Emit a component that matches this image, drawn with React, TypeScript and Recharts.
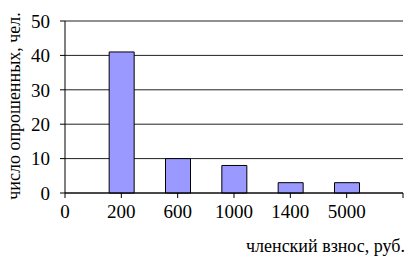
import { Bar, BarChart, CartesianGrid, Label, XAxis, YAxis } from "recharts";

const fees = ["200", "600", "1000", "1400", "5000"];
const respondents = [41, 10, 8, 3, 3];
const xTickLabels = ["0", "200", "600", "1000", "1400", "5000", ""];
const yTicks = [0, 10, 20, 30, 40, 50];

const data = fees.map((fee, i) => ({ fee, pos: i + 1, count: respondents[i] }));

const font = "Liberation Serif, DejaVu Serif, serif";

export default function App() {
  return (
    <div style={{ position: "absolute", left: 0, top: 0, background: "#fff", fontFamily: font }}>
      <BarChart width={408} height={258} data={data} margin={{ top: 21, right: 5, left: 0, bottom: 0 }}>
        <CartesianGrid vertical={false} stroke="#222" strokeWidth={1} />
        <XAxis
          type="number"
          dataKey="pos"
          domain={[0, 6]}
          ticks={[0, 1, 2, 3, 4, 5, 6]}
          tickFormatter={(v: number) => xTickLabels[v]}
          height={65}
          stroke="#000"
          tickSize={5}
          tickMargin={7}
          tick={{ fill: "#000", fontSize: 19, style: { fontFamily: font } }}
        >
          <Label
            content={({ viewBox }: any) => (
              <text
                x={viewBox.x + viewBox.width + 2}
                y={viewBox.y + viewBox.height - 6}
                textAnchor="end"
                fill="#000"
                fontSize={18}
                style={{ fontFamily: font }}
              >
                членский взнос, руб.
              </text>
            )}
          />
        </XAxis>
        <YAxis
          domain={[0, 50]}
          ticks={yTicks}
          width={65}
          stroke="#000"
          tickSize={5}
          tickMargin={10}
          tick={{ fill: "#000", fontSize: 19, style: { fontFamily: font } }}
        >
          <Label
            content={({ viewBox }: any) => {
              const cx = 14;
              const cy = viewBox.y + viewBox.height / 2 - 1;
              return (
                <text
                  x={cx}
                  y={cy}
                  transform={`rotate(-90 ${cx} ${cy})`}
                  textAnchor="middle"
                  dominantBaseline="central"
                  fill="#000"
                  fontSize={18}
                  style={{ fontFamily: font }}
                >
                  число опрошенных, чел.
                </text>
              );
            }}
          />
        </YAxis>
        <Bar dataKey="count" fill="#9999FF" stroke="#000" strokeWidth={1} barSize={25} isAnimationActive={false} />
      </BarChart>
    </div>
  );
}
